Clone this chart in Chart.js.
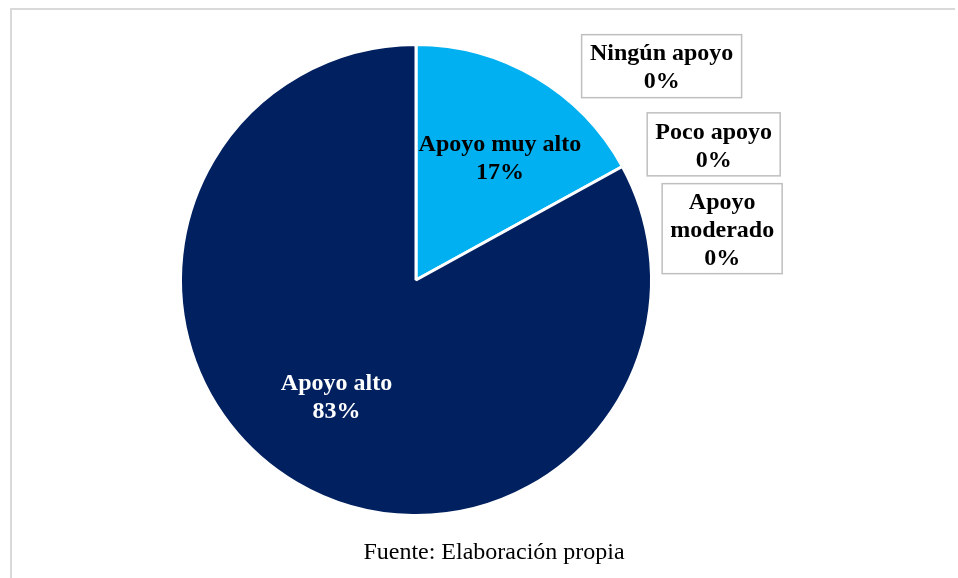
<!DOCTYPE html>
<html>
<head>
<meta charset="utf-8">
<script src="https://cdn.jsdelivr.net/npm/chart.js@4"></script>
<style>
  body { margin: 0; background: #ffffff; }
  #wrap { width: 958px; height: 578px; position: relative; }
</style>
</head>
<body>
<div id="wrap"><canvas id="pieChart" width="958" height="578"></canvas></div>
<script>
const categories = ['Apoyo muy alto', 'Ningún apoyo', 'Poco apoyo', 'Apoyo moderado', 'Apoyo alto'];
const values = [17, 0, 0, 0, 83];
const sliceColors = ['#00B0F0', '#00B0F0', '#00B0F0', '#00B0F0', '#002060'];
// label lines for each slice (wrapped like the original)
const labelLines = [
    ['Apoyo muy alto', '17%'],
    ['Ningún apoyo', '0%'],
    ['Poco apoyo', '0%'],
    ['Apoyo', 'moderado', '0%'],
    ['Apoyo alto', '83%']
];
const sourceText = 'Fuente: Elaboración propia';

const FONT = '"Liberation Serif", "Times New Roman", serif';

// inside labels: distance along mid angle (fraction of radius) plus a small x nudge
const insideLabel = {
    0: { r: 0.6, dx: 12 },
    4: { r: 0.58, dx: -10 }
};

// boxes for the zero slices, placed relative to pie center (in units of radius)
const boxPlacement = {
    1: { cx: 1.043, cy: -0.908, w: 160, h: 63 },
    2: { cx: 1.264, cy: -0.576, w: 133, h: 63 },
    3: { cx: 1.30, cy: -0.218, w: 120, h: 90 }
};

const labelPlugin = {
    id: 'labelPlugin',
    beforeDraw(chart) {
        const ctx = chart.ctx;
        ctx.save();
        ctx.strokeStyle = '#d9d9d9';
        ctx.lineWidth = 2;
        ctx.beginPath();
        ctx.moveTo(11, 578);
        ctx.lineTo(11, 9);
        ctx.lineTo(955, 9);
        ctx.stroke();
        ctx.restore();
    },
    afterDraw(chart) {
        const ctx = chart.ctx;
        const meta = chart.getDatasetMeta(0);
        ctx.save();
        ctx.textAlign = 'center';
        ctx.textBaseline = 'middle';

        meta.data.forEach(function (arc, i) {
            const p = arc.getProps(['x', 'y', 'startAngle', 'endAngle', 'outerRadius']);
            const lines = labelLines[i];
            if (values[i] > 0) {
                const opt = insideLabel[i];
                const mid = (p.startAngle + p.endAngle) / 2;
                const r = p.outerRadius * opt.r;
                const lx = p.x + Math.cos(mid) * r + opt.dx;
                const ly = p.y + Math.sin(mid) * r;
                ctx.fillStyle = i === 0 ? '#000000' : '#ffffff';
                ctx.font = 'bold 24px ' + FONT;
                const lh = 28;
                lines.forEach(function (t, k) {
                    ctx.fillText(t, lx, ly + (k - (lines.length - 1) / 2) * lh);
                });
            } else {
                const b = boxPlacement[i];
                const bx = p.x + b.cx * p.outerRadius;
                const by = p.y + b.cy * p.outerRadius;
                ctx.fillStyle = '#ffffff';
                ctx.fillRect(bx - b.w / 2, by - b.h / 2, b.w, b.h);
                ctx.strokeStyle = '#bfbfbf';
                ctx.lineWidth = 1.5;
                ctx.strokeRect(bx - b.w / 2, by - b.h / 2, b.w, b.h);
                ctx.fillStyle = '#000000';
                ctx.font = 'bold 24px ' + FONT;
                const lh = 28;
                lines.forEach(function (t, k) {
                    ctx.fillText(t, bx, by + 2 + (k - (lines.length - 1) / 2) * lh);
                });
            }
        });

        ctx.fillStyle = '#000000';
        ctx.font = '24px ' + FONT;
        ctx.fillText(sourceText, 494, 553);
        ctx.restore();
    }
};

const pieCtx = document.getElementById('pieChart').getContext('2d');

new Chart(pieCtx, {
    type: 'pie',
    data: {
        labels: categories,
        datasets: [{
            data: values,
            backgroundColor: sliceColors,
            borderColor: '#ffffff',
            borderWidth: 3
        }]
    },
    options: {
        responsive: false,
        animation: false,
        layout: {
            padding: { left: 179, right: 305, top: 43, bottom: 61 }
        },
        plugins: {
            legend: { display: false },
            tooltip: { enabled: false }
        }
    },
    plugins: [labelPlugin]
});
</script>
</body>
</html>
